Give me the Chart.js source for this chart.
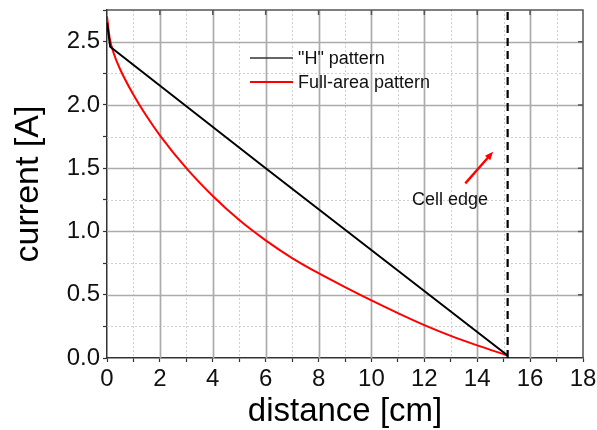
<!DOCTYPE html>
<html>
<head>
<meta charset="utf-8">
<script src="https://cdn.jsdelivr.net/npm/chart.js@4/dist/chart.umd.min.js"></script>
<style>
  html, body { margin: 0; padding: 0; background: #fff; }
  canvas { display: block; }
</style>
</head>
<body>
<canvas id="chart" width="597" height="430"></canvas>
<script>
// Current along the cell for the two grid layouts
const distanceH = [0, 0.12, 6, 15.15];
const currentH  = [2.65, 2.46, 1.50, 0.02];

const distanceFull = [0, 0.1, 0.25, 0.5, 1, 1.5, 2, 3, 4, 5, 6, 7, 8, 9, 10, 11, 12, 13, 14, 15.15];
const currentFull  = [2.70, 2.53, 2.41, 2.28, 2.08, 1.91, 1.76, 1.50, 1.28, 1.09, 0.93, 0.79, 0.67, 0.56, 0.455, 0.355, 0.26, 0.175, 0.10, 0.02];

const seriesLabels = ['"H" pattern', 'Full-area pattern'];

// Labelled ticks
const xMajorTicks = [0, 2, 4, 6, 8, 10, 12, 14, 16, 18];
const yMajorTicks = [0, 0.5, 1.0, 1.5, 2.0, 2.5];

// Annotation: edge of the cell
const cellEdge = 15.15;
const cellEdgeText = 'Cell edge';
const arrowFrom = [13.55, 1.38];
const arrowTo   = [14.6, 1.63];
const cellEdgeTextAt = [12.97, 1.25];

const FONT = "'Liberation Sans', Arial, sans-serif";

const isMajor = (list, v) => list.some(m => Math.abs(m - v) < 1e-6);

// Solid major grid, dotted minor grid
const gridPlugin = {
  id: 'mixedGrid',
  beforeDatasetsDraw(chart) {
    const { ctx, chartArea: a, scales: { x, y } } = chart;
    ctx.save();
    const drawSet = (major) => {
      ctx.beginPath();
      x.ticks.forEach(t => {
        if (t.value <= x.min || t.value >= x.max) return;
        if (isMajor(xMajorTicks, t.value) !== major) return;
        const px = Math.round(x.getPixelForValue(t.value)) + 0.5;
        ctx.moveTo(px, a.top);
        ctx.lineTo(px, a.bottom);
      });
      y.ticks.forEach(t => {
        if (t.value <= y.min || t.value >= y.max) return;
        if (isMajor(yMajorTicks, t.value) !== major) return;
        const py = Math.round(y.getPixelForValue(t.value)) + 0.5;
        ctx.moveTo(a.left, py);
        ctx.lineTo(a.right, py);
      });
      ctx.stroke();
    };
    ctx.strokeStyle = '#d0d0d0';
    ctx.lineWidth = 1;
    ctx.setLineDash([2, 2]);
    drawSet(false);
    ctx.strokeStyle = '#ababab';
    ctx.lineWidth = 1.7;
    ctx.setLineDash([]);
    drawSet(true);
    ctx.restore();
  }
};

// Frame, cell edge marker, arrow, note and legend
const overlayPlugin = {
  id: 'overlay',
  afterDatasetsDraw(chart) {
    const { ctx, chartArea: a, scales: { x, y } } = chart;
    ctx.save();

    // top and right frame with inward ticks
    ctx.strokeStyle = '#555';
    ctx.lineWidth = 1.5;
    ctx.beginPath();
    ctx.moveTo(a.left, a.top);
    ctx.lineTo(a.right, a.top);
    ctx.lineTo(a.right, a.bottom);
    xMajorTicks.forEach(v => {
      if (v <= x.min || v >= x.max) return;
      const px = x.getPixelForValue(v);
      ctx.moveTo(px, a.top);
      ctx.lineTo(px, a.top + 5);
    });
    yMajorTicks.forEach(v => {
      if (v <= y.min || v >= y.max) return;
      const py = y.getPixelForValue(v);
      ctx.moveTo(a.right, py);
      ctx.lineTo(a.right - 5, py);
    });
    ctx.stroke();

    // dashed cell edge
    const ex = x.getPixelForValue(cellEdge);
    ctx.strokeStyle = '#000';
    ctx.lineWidth = 2.2;
    ctx.setLineDash([8, 5]);
    ctx.beginPath();
    ctx.moveTo(ex, y.getPixelForValue(0));
    ctx.lineTo(ex, a.top);
    ctx.stroke();
    ctx.setLineDash([]);

    // red arrow
    const x1 = x.getPixelForValue(arrowFrom[0]), y1 = y.getPixelForValue(arrowFrom[1]);
    const x2 = x.getPixelForValue(arrowTo[0]),   y2 = y.getPixelForValue(arrowTo[1]);
    const ang = Math.atan2(y2 - y1, x2 - x1);
    const head = 9;
    ctx.strokeStyle = '#ff0000';
    ctx.fillStyle = '#ff0000';
    ctx.lineWidth = 2.4;
    ctx.beginPath();
    ctx.moveTo(x1, y1);
    ctx.lineTo(x2 - Math.cos(ang) * head * 0.7, y2 - Math.sin(ang) * head * 0.7);
    ctx.stroke();
    ctx.beginPath();
    ctx.moveTo(x2, y2);
    ctx.lineTo(x2 - head * Math.cos(ang - 0.4), y2 - head * Math.sin(ang - 0.4));
    ctx.lineTo(x2 - head * Math.cos(ang + 0.4), y2 - head * Math.sin(ang + 0.4));
    ctx.closePath();
    ctx.fill();

    // note
    ctx.fillStyle = '#111';
    ctx.font = '18px ' + FONT;
    ctx.textAlign = 'center';
    ctx.textBaseline = 'middle';
    ctx.fillText(cellEdgeText, x.getPixelForValue(cellEdgeTextAt[0]), y.getPixelForValue(cellEdgeTextAt[1]));

    // legend
    const legendRows = [58, 82];
    chart.data.datasets.forEach((ds, i) => {
      const ly = legendRows[i];
      ctx.strokeStyle = i === 0 ? '#333' : ds.borderColor;
      ctx.lineWidth = i === 0 ? 1.6 : 2;
      ctx.beginPath();
      ctx.moveTo(250, ly);
      ctx.lineTo(293, ly);
      ctx.stroke();
      ctx.fillStyle = '#111';
      ctx.textAlign = 'left';
      ctx.textBaseline = 'middle';
      ctx.font = '18px ' + FONT;
      ctx.fillText(ds.label, 298, ly + 1);
    });

    ctx.restore();
  }
};

const toPoints = (xs, ys) => xs.map((v, i) => ({ x: v, y: ys[i] }));

new Chart(document.getElementById('chart'), {
  type: 'line',
  data: {
    datasets: [
      {
        label: seriesLabels[0],
        data: toPoints(distanceH, currentH),
        borderColor: '#000000',
        borderWidth: 2,
        pointRadius: 0,
        tension: 0
      },
      {
        label: seriesLabels[1],
        data: toPoints(distanceFull, currentFull),
        borderColor: '#ff0000',
        borderWidth: 2,
        pointRadius: 0,
        cubicInterpolationMode: 'monotone'
      }
    ]
  },
  options: {
    responsive: false,
    animation: false,
    layout: { padding: { top: 10, right: 14, left: 0, bottom: 0 } },
    plugins: { legend: { display: false }, tooltip: { enabled: false } },
    scales: {
      x: {
        type: 'linear',
        min: 0,
        max: 18,
        afterFit(s) { s.height = 72; s.paddingLeft = 0; s.paddingRight = 0; },
        ticks: {
          stepSize: 1,
          autoSkip: false,
          maxRotation: 0,
          padding: 3,
          color: '#111',
          font: { family: FONT, size: 24 },
          callback: v => isMajor(xMajorTicks, v) ? String(v) : ''
        },
        grid: { drawOnChartArea: false, drawTicks: true, tickLength: 4, tickColor: '#333', tickWidth: 1.2 },
        border: { color: '#333', width: 1.5 },
        title: {
          display: true,
          text: 'distance [cm]',
          color: '#000',
          font: { family: FONT, size: 33, lineHeight: 1 },
          padding: { top: 0, bottom: 2 }
        }
      },
      y: {
        min: 0,
        max: 2.75,
        afterFit(s) { s.width = 107; s.paddingTop = 0; s.paddingBottom = 0; },
        ticks: {
          stepSize: 0.25,
          autoSkip: false,
          padding: 3,
          color: '#111',
          font: { family: FONT, size: 24 },
          callback: v => isMajor(yMajorTicks, v) ? Number(v).toFixed(1) : ''
        },
        grid: { drawOnChartArea: false, drawTicks: true, tickLength: 4, tickColor: '#333', tickWidth: 1.2 },
        border: { color: '#333', width: 1.5 },
        title: {
          display: true,
          text: 'current [A]',
          color: '#000',
          font: { family: FONT, size: 34, lineHeight: 1 },
          padding: { top: 12, bottom: 0 }
        }
      }
    }
  },
  plugins: [gridPlugin, overlayPlugin]
});
</script>
</body>
</html>
